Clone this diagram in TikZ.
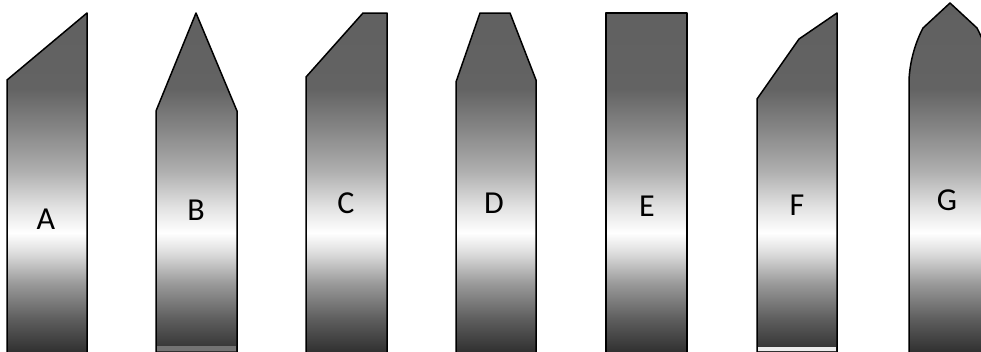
\documentclass[tikz,border=0pt]{standalone}
\usepackage{fontspec}
\setmainfont{Carlito}
\definecolor{acerotop}{HTML}{606060}
\definecolor{aceroa}{HTML}{636363}
\definecolor{acerob}{HTML}{888888}
\definecolor{aceroc}{HTML}{B0B0B0}
\definecolor{acerod}{HTML}{E2E2E2}
\definecolor{acerobrillo}{HTML}{FFFFFF}
\definecolor{aceroe}{HTML}{DDDDDD}
\definecolor{acerof}{HTML}{9A9A9A}
\definecolor{acerog}{HTML}{5E5E5E}
\definecolor{acerobase}{HTML}{2C2C2C}
\pgfdeclareverticalshading{acero}{100bp}{color(0bp)=(acerobase); color(25bp)=(acerobase);
  color(30.1bp)=(acerog); color(35.1bp)=(acerof); color(39.4bp)=(aceroe);
  color(42.2bp)=(acerobrillo); color(45.8bp)=(acerod); color(50.8bp)=(aceroc);
  color(56.5bp)=(acerob); color(62.5bp)=(aceroa); color(75bp)=(acerotop); color(100bp)=(acerotop)}

\begin{document}
\begin{tikzpicture}[x=1pt, y=-1pt,
    cuchilla/.style={draw=black, line width=1.5pt, line join=round,
      path picture={\shade[shading=acero] (0,0) rectangle (981,351);}},
    etiqueta/.style={inner sep=0pt, font=\fontsize{32}{36}\selectfont}]
  \useasboundingbox (0,0) rectangle (981,351);
  \clip (0,0) rectangle (981,351);
  % Cuchilla A
  \draw[cuchilla] (7,355) -- (7,80) -- (87,13) -- (87,355) -- cycle;
  % Cuchilla B
  \draw[cuchilla] (156,355) -- (156,111) -- (196,13) -- (237,111) -- (237,355) -- cycle;
  \fill[black!55] (156.8,346) rectangle (236.2,351);
  % Cuchilla C
  \draw[cuchilla] (306,355) -- (306,77) -- (363,13) -- (387,13) -- (387,355) -- cycle;
  % Cuchilla D
  \draw[cuchilla] (456,355) -- (456,82) -- (480,13) -- (510,13) -- (536,80) -- (536,355) -- cycle;
  % Cuchilla E
  \draw[cuchilla] (606,355) -- (606,13) -- (687,13) -- (687,355) -- cycle;
  % Cuchilla F
  \draw[cuchilla] (757,355) -- (757,99) -- (799,39) -- (837,13) -- (837,355) -- cycle;
  \fill[gray!15] (757.8,347) rectangle (836.2,351);
  % Cuchilla G (redondeada)
  \draw[cuchilla] (909,355) -- (909,83) .. controls (909,66) and (914,45) .. (923,28)
    -- (950,3) -- (977,28) .. controls (986,45) and (991,66) .. (991,83) -- (991,355) -- cycle;
  % Letras
  \node[etiqueta] (la) at (46,219) {A};
  \node[etiqueta] (lb) at (196,210) {B};
  \node[etiqueta] (lc) at (346,203) {C};
  \node[etiqueta] (ld) at (494,203) {D};
  \node[etiqueta] (le) at (647,206) {E};
  \node[etiqueta] (lf) at (797,205) {F};
  \node[etiqueta] (lg) at (947,200) {G};
\end{tikzpicture}
\end{document}
